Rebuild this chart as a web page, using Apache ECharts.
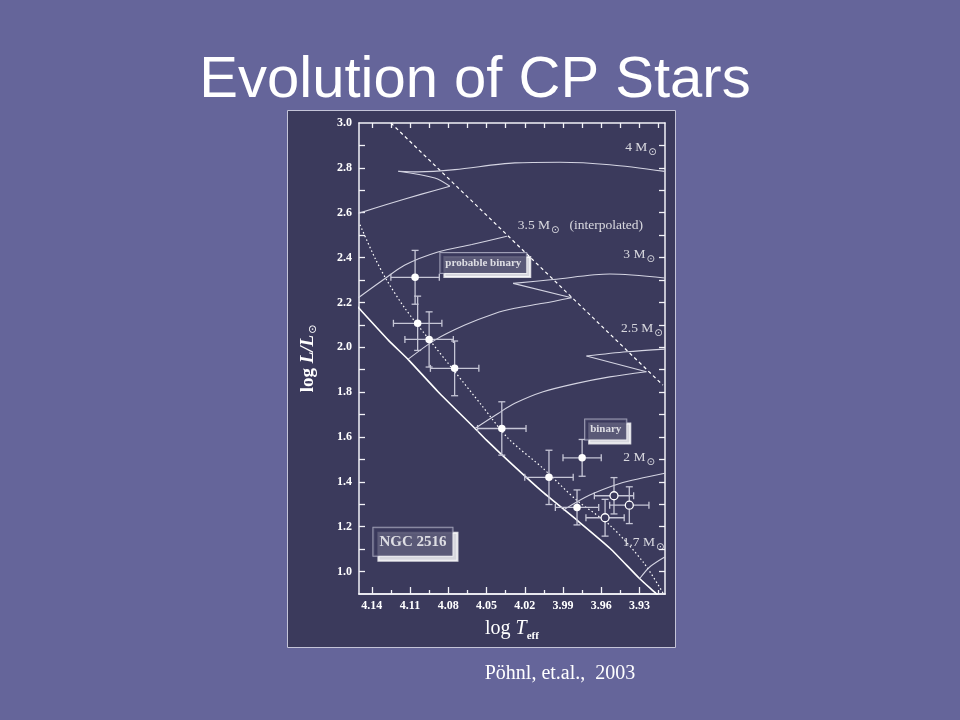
<!DOCTYPE html>
<html><head><meta charset="utf-8">
<script src="https://cdn.jsdelivr.net/npm/echarts@6/dist/echarts.min.js"></script>
<style>html,body{margin:0;padding:0;background:#65659a}#c{width:960px;height:720px}</style>
</head><body><div id="c"></div>
<script>
// ---- axis ticks / labels ----
const xMajorTicks = [4.14, 4.11, 4.08, 4.05, 4.02, 3.99, 3.96, 3.93];
const xMinorTicks = [4.125, 4.095, 4.065, 4.035, 4.005, 3.975, 3.945, 3.915];
const xAllTicks = [4.14, 4.125, 4.11, 4.095, 4.08, 4.065, 4.05, 4.035, 4.02, 4.005, 3.99, 3.975, 3.96, 3.945, 3.93, 3.915];
const yLabelValues = [1.0, 1.2, 1.4, 1.6, 1.8, 2.0, 2.2, 2.4, 2.6, 2.8, 3.0];
const yTickValues = [1.0, 1.1, 1.2, 1.3, 1.4, 1.5, 1.6, 1.7, 1.8, 1.9, 2.0, 2.1, 2.2, 2.3, 2.4, 2.5, 2.6, 2.7, 2.8, 2.9];

// ---- lines: [logTeff, logL] ----
const zams = [[4.155,2.205],[4.150,2.174],[4.127,2.032],[4.111,1.943],[4.088,1.802],[4.059,1.638],[4.050,1.586],[4.032,1.489],[4.006,1.355],[3.979,1.229],[3.953,1.103],[3.930,0.969],[3.917,0.902],[3.915,0.890]];
const isochrone = [[4.1492,2.546],[4.1375,2.398],[4.1283,2.300],[4.114,2.174],[4.0957,2.040],[4.0748,1.891],[4.0539,1.742],[4.033,1.594],[4.0056,1.460],[3.9794,1.319],[3.9533,1.207],[3.9272,1.043],[3.9116,0.905]];
const dashedLine = [[4.125,3.0],[3.9116,1.831]];

const track4ms = [[4.1505,2.597],[4.1271,2.639],[4.1009,2.683],[4.0787,2.718]];
const track4hook = [[4.0787,2.718],[4.0905,2.755],[4.1192,2.785]];
const track4post = [[4.1192,2.785],[4.1036,2.782],[4.0748,2.792],[4.0278,2.822],[3.9925,2.825],[3.9533,2.814],[3.9102,2.7845]];
const track35 = [[4.1505,2.221],[4.1312,2.300],[4.114,2.367],[4.0881,2.425],[4.0615,2.458],[4.034,2.495]];
const track3ms = [[4.1114,1.947],[4.0905,2.032],[4.067,2.099],[4.0434,2.151],[4.0278,2.174],[4.0056,2.196],[3.9833,2.221]];
const track3hook = [[3.9833,2.221],[4.0291,2.285]];
const track3post = [[4.0291,2.285],[3.9978,2.302],[3.9533,2.3265],[3.9102,2.309]];
const track25ms = [[4.0591,1.638],[4.0409,1.705],[4.0278,1.750],[4.0056,1.8015],[3.9794,1.839],[3.9533,1.868],[3.9246,1.891]];
const track25hook = [[3.9246,1.891],[3.9716,1.961]];
const track25post = [[3.9716,1.961],[3.9402,1.980],[3.9102,1.992]];
const track2 = [[3.9899,1.274],[3.969,1.341],[3.9455,1.393],[3.9272,1.418],[3.9102,1.438]];
const track17 = [[3.9298,0.969],[3.922,1.0205],[3.9102,1.065]];

// ---- stars: [logTeff, logL, errT, errL] ----
const starsFilled = [
  [4.106, 2.312, 0.019, 0.120],
  [4.104, 2.107, 0.019, 0.121],
  [4.095, 2.035, 0.019, 0.123],
  [4.075, 1.906, 0.019, 0.122],
  [4.038, 1.638, 0.019, 0.119],
  [3.975, 1.507, 0.015, 0.082],
  [4.001, 1.420, 0.019, 0.121],
  [3.979, 1.286, 0.017, 0.078]
];
const starsOpen = [
  [3.950, 1.338, 0.0154, 0.081],
  [3.938, 1.296, 0.0154, 0.082],
  [3.957, 1.240, 0.015, 0.082]
];

// ---- annotations (data space anchors) ----
const massNames = ['4', '3', '2.5', '2', '1.7'];
const massAnchors = [[3.9165,2.888],[3.918,2.411],[3.9118,2.081],[3.918,1.506],[3.9105,1.127]];
const interpName = '3.5';
const interpAnchor = [4.0254, 2.541];
const boxTexts = ['probable binary', 'binary'];
const boxAnchors = [[4.0525,2.376],[3.9565,1.633]];
const clusterText = 'NGC 2516';
const clusterAnchor = [4.1077,1.1334];

const PANEL = '#3b3a5c';
const SERIF = "'Liberation Serif','DejaVu Serif',serif";
const AX = '#f2f2f7';
const TRK = '#d4d4e2';

const chart = echarts.init(document.getElementById('c'), null, {renderer: 'canvas'});

function line(data, style, smooth) {
  return {type: 'line', data: data, symbol: 'none', smooth: smooth === undefined ? 0.3 : smooth,
    clip: true, silent: true, z: 2, lineStyle: style};
}
const trackStyle = {color: TRK, width: 1.1};
const series = [
  line(zams, {color: '#ffffff', width: 1.6}, 0.2),
  line(isochrone, {color: '#ffffff', width: 1.2, type: [1.5, 2.5]}, 0.3),
  line(dashedLine, {color: '#ffffff', width: 1.2, type: [3.5, 3]}, 0),
  line(track4ms, trackStyle), line(track4hook, trackStyle, 0.3), line(track4post, trackStyle),
  line(track35, trackStyle),
  line(track3ms, trackStyle), line(track3hook, trackStyle, 0), line(track3post, trackStyle),
  line(track25ms, trackStyle), line(track25hook, trackStyle, 0), line(track25post, trackStyle),
  line(track2, trackStyle), line(track17, trackStyle)
];

function errorBars(data) {
  return {
    type: 'custom', data: data, clip: true, silent: true, z: 3,
    encode: {x: 0, y: 1},
    renderItem: function (params, api) {
      const x = api.value(0), y = api.value(1), dx = api.value(2), dy = api.value(3);
      const l = api.coord([x + dx, y]), r = api.coord([x - dx, y]);
      const t = api.coord([x, y + dy]), b = api.coord([x, y - dy]);
      const c = 3.5;
      const st = {stroke: '#c6c6d6', lineWidth: 1.3};
      return {type: 'group', children: [
        {type: 'line', shape: {x1: l[0], y1: l[1], x2: r[0], y2: r[1]}, style: st},
        {type: 'line', shape: {x1: t[0], y1: t[1], x2: b[0], y2: b[1]}, style: st},
        {type: 'line', shape: {x1: l[0], y1: l[1] - c, x2: l[0], y2: l[1] + c}, style: st},
        {type: 'line', shape: {x1: r[0], y1: r[1] - c, x2: r[0], y2: r[1] + c}, style: st},
        {type: 'line', shape: {x1: t[0] - c, y1: t[1], x2: t[0] + c, y2: t[1]}, style: st},
        {type: 'line', shape: {x1: b[0] - c, y1: b[1], x2: b[0] + c, y2: b[1]}, style: st}
      ]};
    }
  };
}
series.push(errorBars(starsFilled), errorBars(starsOpen));
series.push({type: 'scatter', data: starsFilled.map(function (d) { return [d[0], d[1]]; }),
  symbol: 'circle', symbolSize: 7.5, z: 4, silent: true, itemStyle: {color: '#ffffff', opacity: 1}});
series.push({type: 'scatter', data: starsOpen.map(function (d) { return [d[0], d[1]]; }),
  symbol: 'circle', symbolSize: 8, z: 4, silent: true,
  itemStyle: {color: PANEL, borderColor: '#ffffff', borderWidth: 1.3, opacity: 1}});

const massRich = {
  a: {fontFamily: SERIF, fontSize: 13.5, color: '#ffffff', verticalAlign: 'top', lineHeight: 15},
  s: {fontFamily: "'DejaVu Sans',sans-serif", fontSize: 10, color: '#ffffff', verticalAlign: 'top', lineHeight: 10, padding: [7, 0, 0, 1]}
};
series.push({type: 'scatter', symbolSize: 0, z: 5, silent: true,
  data: massAnchors.map(function (p, i) { return {value: [p[0], p[1]], name: massNames[i]}; }),
  label: {show: true, position: [0, 0], align: 'right', verticalAlign: 'middle',
    formatter: function (p) { return '{a|' + p.name + ' M}{s|\u2299}'; }, rich: massRich}});
series.push({type: 'scatter', symbolSize: 0, z: 5, silent: true,
  data: [{value: interpAnchor, name: interpName}],
  label: {show: true, position: [0, 0], align: 'left', verticalAlign: 'middle',
    formatter: function (p) { return '{a|' + p.name + ' M}{s|\u2299}{a|   (interpolated)}'; }, rich: massRich}});

function boxSeries(anchors, texts, fontSize, pad, shadow) {
  const data = anchors.map(function (p, i) { return {value: [p[0], p[1]], name: texts[i]}; });
  return {type: 'scatter', symbolSize: 0, z: 6, silent: true, data: data,
    label: {show: true, position: 'inside', align: 'center', verticalAlign: 'middle',
      fontFamily: SERIF, fontSize: fontSize, fontWeight: 'bold', lineHeight: fontSize + 1, padding: pad,
      color: '#ffffff', backgroundColor: PANEL, borderColor: '#b8b8cc', borderWidth: 1,
      shadowColor: '#ffffff', shadowBlur: 0, shadowOffsetX: shadow, shadowOffsetY: shadow,
      formatter: function (p) { return p.name; }}};
}
series.push(boxSeries(boxAnchors, boxTexts, 11, [4, 5], 4));
series.push(boxSeries([clusterAnchor], [clusterText], 15, [6, 6], 5));

const tickLbl = {fontFamily: SERIF, fontSize: 12, fontWeight: 'bold', color: '#ffffff'};
const axLine = {show: true, onZero: false, lineStyle: {color: AX, width: 1.5}};
const xBase = {type: 'value', min: 3.91, max: 4.15, inverse: true, splitLine: {show: false}, axisLine: axLine};

const option = {
  animation: false,
  backgroundColor: '#65659a',
  grid: {left: 359, right: 295, top: 123, bottom: 126},
  graphic: [
    {type: 'rect', z: -10, shape: {x: 287.5, y: 110.5, width: 388, height: 537},
      style: {fill: PANEL, stroke: '#c4c4d8', lineWidth: 1}},
    {type: 'text', x: 475, y: 81, z: 10,
      style: {text: 'Evolution of CP Stars', fill: '#ffffff', font: "58px 'Liberation Sans', Arial, sans-serif",
        align: 'center', verticalAlign: 'middle', textAlign: 'center', textVerticalAlign: 'middle'}},
    {type: 'text', x: 560, y: 674, z: 10,
      style: {text: 'Pöhnl, et.al.,  2003', fill: '#ffffff', font: "20px 'Liberation Serif', 'Times New Roman', serif",
        align: 'center', verticalAlign: 'middle', textAlign: 'center', textVerticalAlign: 'middle'}}
  ],
  xAxis: [
    Object.assign({}, xBase, {position: 'bottom',
      axisTick: {show: true, inside: true, length: 7, customValues: xMajorTicks, lineStyle: {color: AX, width: 1.3}},
      axisLabel: Object.assign({show: true, margin: 6, customValues: xMajorTicks, formatter: function (v) { return v.toFixed(2); }}, tickLbl),
      name: '{n|log }{i|T}{s|eff}', nameLocation: 'middle', nameGap: 25,
      nameTextStyle: {rich: {
        n: {fontFamily: SERIF, fontSize: 20, color: '#ffffff', verticalAlign: 'top', lineHeight: 21},
        i: {fontFamily: SERIF, fontSize: 20, fontStyle: 'italic', color: '#ffffff', verticalAlign: 'top', lineHeight: 21},
        s: {fontFamily: SERIF, fontSize: 11, fontWeight: 'bold', color: '#ffffff', verticalAlign: 'top', lineHeight: 11, padding: [12, 0, 0, 0]}
      }}}),
    Object.assign({}, xBase, {position: 'bottom',
      axisTick: {show: true, inside: true, length: 4, customValues: xMinorTicks, lineStyle: {color: AX, width: 1.3}},
      axisLabel: {show: false}}),
    Object.assign({}, xBase, {position: 'top',
      axisTick: {show: true, inside: true, length: 5, customValues: xAllTicks, lineStyle: {color: AX, width: 1.3}},
      axisLabel: {show: false}})
  ],
  yAxis: [
    {type: 'value', position: 'left', min: 0.9, max: 3.0, splitLine: {show: false}, axisLine: axLine,
      axisTick: {show: true, inside: true, length: 6, customValues: yTickValues, lineStyle: {color: AX, width: 1.3}},
      axisLabel: Object.assign({show: true, margin: 7, customValues: yLabelValues, formatter: function (v) { return v.toFixed(1); }}, tickLbl),
      name: '{n|log }{i|L/L}{s|\u2299}', nameLocation: 'middle', nameGap: 40, nameRotate: 90,
      nameTextStyle: {rich: {
        n: {fontFamily: SERIF, fontSize: 19, fontWeight: 'bold', color: '#ffffff', verticalAlign: 'top', lineHeight: 20},
        i: {fontFamily: SERIF, fontSize: 19, fontWeight: 'bold', fontStyle: 'italic', color: '#ffffff', verticalAlign: 'top', lineHeight: 20},
        s: {fontFamily: "'DejaVu Sans',sans-serif", fontSize: 11, color: '#ffffff', verticalAlign: 'top', lineHeight: 11, padding: [9, 0, 0, 1]}
      }}},
    {type: 'value', position: 'right', min: 0.9, max: 3.0, splitLine: {show: false}, axisLine: axLine,
      axisTick: {show: true, inside: true, length: 6, customValues: yTickValues, lineStyle: {color: AX, width: 1.3}},
      axisLabel: {show: false}}
  ],
  series: series
};
chart.setOption(option);
</script></body></html>
